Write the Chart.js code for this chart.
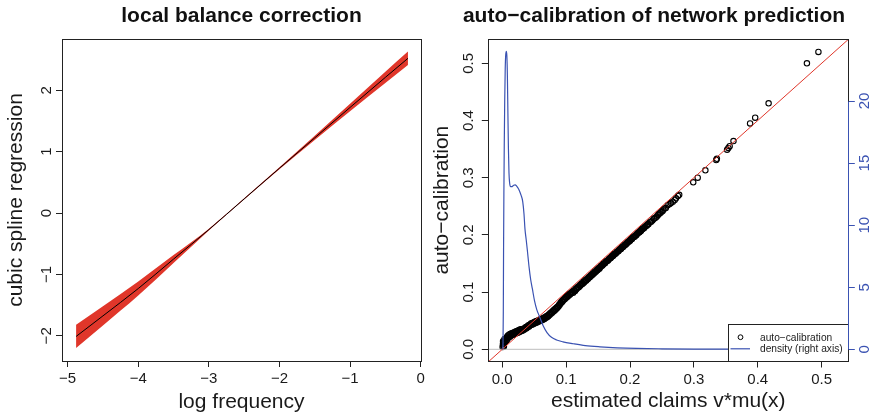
<!DOCTYPE html>
<html><head><meta charset="utf-8">
<script src="https://cdn.jsdelivr.net/npm/chart.js@4.4.1/dist/chart.umd.min.js"></script>
<style>
html,body{margin:0;padding:0;background:#fff;}
body{width:874px;height:417px;position:relative;overflow:hidden;}
canvas{position:absolute;top:0;}
#left{left:0;}
#right{left:430px;}
</style></head><body>
<canvas id="left" width="430" height="417"></canvas>
<canvas id="right" width="444" height="417"></canvas>
<script>
// ---------- left panel: local balance correction ----------
const logFreq   = [-4.88, -4.5, -4.0, -3.5, -3.0, -2.5, -2.0, -1.5, -1.0, -0.5, -0.18];
const splineFit = [-2.01, -1.675, -1.23, -0.75, -0.27, 0.23, 0.73, 1.225, 1.72, 2.21, 2.52];
const splineUp  = [-1.82, -1.52, -1.115, -0.685, -0.255, 0.24, 0.745, 1.26, 1.78, 2.30, 2.63];
const splineLo  = [-2.20, -1.83, -1.345, -0.815, -0.285, 0.22, 0.715, 1.19, 1.66, 2.12, 2.41];
const leftXTicks = [-5, -4, -3, -2, -1, 0];
const leftYTicks = [-2, -1, 0, 1, 2];

// ---------- right panel: auto-calibration ----------
const autoCal = [
 [0.0005,0.004],[0.001,0.009],[0.0015,0.006],[0.002,0.012],[0.0012,0.014],[0.003,0.010],[0.0025,0.005],[0.004,0.015],[0.0035,0.018],[0.005,0.013],
 [0.006,0.019],[0.007,0.016],[0.0075,0.022],[0.0085,0.019],[0.009,0.024],[0.010,0.021],[0.011,0.026],[0.012,0.022],[0.013,0.027],[0.014,0.024],
 [0.015,0.028],[0.016,0.025],[0.017,0.029],[0.018,0.026],[0.019,0.030],[0.020,0.027],[0.021,0.031],[0.022,0.028],[0.023,0.032],[0.024,0.029],
 [0.025,0.033],[0.026,0.030],[0.027,0.034],[0.028,0.031],[0.029,0.035],[0.030,0.032],[0.031,0.035],[0.032,0.033],[0.033,0.036],[0.034,0.034],
 [0.035,0.037],[0.036,0.036],[0.037,0.039],[0.038,0.037],[0.039,0.040],[0.040,0.039],[0.041,0.042],[0.042,0.040],[0.043,0.043],[0.044,0.042],
 [0.045,0.045],[0.046,0.043],[0.047,0.046],[0.048,0.044],[0.049,0.047],[0.050,0.045],[0.051,0.048],[0.052,0.046],[0.053,0.049],[0.054,0.047],
 [0.055,0.050],[0.056,0.048],[0.057,0.051],[0.058,0.049],[0.059,0.052],[0.060,0.050],[0.061,0.053],[0.062,0.051],[0.063,0.054],[0.064,0.052],
 [0.065,0.055],[0.066,0.053],[0.067,0.056],[0.068,0.055],[0.069,0.058],[0.070,0.056],[0.071,0.059],[0.072,0.058],[0.073,0.061],[0.074,0.060],
 [0.075,0.063],[0.076,0.062],[0.077,0.065],[0.078,0.064],[0.079,0.067],[0.080,0.066],[0.081,0.069],[0.082,0.068],[0.083,0.071],[0.084,0.070],
 [0.085,0.073],[0.086,0.072],[0.087,0.075],[0.088,0.075],[0.089,0.078],[0.090,0.078],[0.091,0.081],[0.092,0.081],[0.093,0.084],[0.094,0.083],
 [0.095,0.086],[0.096,0.086],[0.097,0.088],[0.098,0.088],[0.099,0.091],[0.100,0.090],[0.101,0.093],[0.102,0.092],[0.103,0.095],[0.104,0.094],
 [0.105,0.097],[0.106,0.096],[0.107,0.098],[0.108,0.098],[0.109,0.100],[0.110,0.100],[0.112,0.103],[0.113,0.103],[0.115,0.106],[0.116,0.105],
 [0.118,0.109],[0.119,0.108],[0.121,0.112],[0.122,0.111],[0.124,0.115],[0.125,0.114],[0.127,0.118],[0.128,0.117],[0.130,0.121],[0.131,0.120],
 [0.133,0.124],[0.134,0.123],[0.136,0.127],[0.137,0.126],[0.139,0.130],[0.140,0.129],[0.142,0.133],[0.143,0.132],[0.145,0.136],[0.146,0.135],
 [0.148,0.139],[0.149,0.138],[0.151,0.142],[0.153,0.143],[0.155,0.146],[0.157,0.147],[0.159,0.150],[0.161,0.151],[0.163,0.154],[0.165,0.155],
 [0.167,0.158],[0.169,0.159],[0.171,0.162],[0.173,0.163],[0.175,0.166],[0.177,0.167],[0.179,0.170],[0.181,0.171],[0.183,0.174],[0.185,0.175],
 [0.187,0.178],[0.189,0.179],[0.191,0.182],[0.193,0.183],[0.196,0.187],[0.198,0.188],[0.201,0.192],[0.203,0.193],[0.206,0.197],[0.209,0.199],
 [0.212,0.203],[0.215,0.205],[0.218,0.209],[0.221,0.211],[0.224,0.215],[0.228,0.218],[0.231,0.222],[0.235,0.225],[0.238,0.229],[0.242,0.232],
 [0.245,0.237],[0.249,0.240],[0.252,0.244],[0.256,0.247],[0.259,0.252],[0.264,0.256],[0.270,0.261],[0.272,0.264],[0.275,0.268],[0.277,0.270],
 [0.111,0.099],[0.114,0.102],[0.117,0.107],[0.120,0.109],[0.123,0.113],[0.126,0.115],[0.129,0.119],[0.132,0.121],[0.135,0.125],[0.138,0.128],
 [0.141,0.131],[0.144,0.134],[0.147,0.137],[0.150,0.141],[0.152,0.141],[0.154,0.145],[0.156,0.146],[0.158,0.149],[0.160,0.150],[0.162,0.153],
 [0.164,0.155],[0.166,0.156],[0.168,0.159],[0.170,0.160],[0.172,0.163],[0.174,0.164],[0.176,0.167],[0.178,0.168],[0.180,0.171],[0.182,0.172],
 [0.184,0.175],[0.186,0.176],[0.188,0.179],[0.190,0.180],[0.192,0.183],[0.194,0.185],[0.195,0.185],[0.197,0.188],[0.199,0.190],[0.200,0.190],
 [0.202,0.193],[0.204,0.195],[0.205,0.196],[0.207,0.197],[0.208,0.199],[0.210,0.200],[0.211,0.202],[0.213,0.204],[0.214,0.204],[0.216,0.207],
 [0.217,0.207],[0.219,0.210],[0.220,0.211],[0.222,0.212],[0.223,0.214],[0.226,0.216],[0.227,0.218],[0.229,0.219],[0.233,0.223],[0.237,0.228],
 [0.240,0.230],[0.244,0.235],[0.247,0.238],[0.251,0.242],[0.254,0.246],[0.262,0.254],[0.267,0.258],
 [0.299,0.292],[0.306,0.300],[0.318,0.313],[0.335,0.331],[0.336,0.333],[0.352,0.349],[0.354,0.352],[0.356,0.355],[0.362,0.364],[0.388,0.395],
 [0.396,0.405],[0.417,0.430],[0.477,0.500],[0.495,0.520]
];
const densX = [0.0010,0.0016,0.0020,0.0025,0.0031,0.0038,0.0046,0.0055,0.0064,0.0072,0.0080,0.0088,0.0096,0.0105,0.0115,0.0130,0.0147,0.0175,0.0200,0.0225,0.0245,0.0266,0.0295,0.0320,0.0340,0.0355,0.0375,0.0392,0.0420,0.0445,0.0470,0.0505,0.0540,0.0590,0.0640,0.0700,0.0770,0.0850,0.0950,0.1110,0.1300,0.1530,0.1800,0.2100,0.2500,0.3000,0.3500,0.4000,0.5000];
const densY = [0.0,3.0,8.0,12.5,16.5,20.0,22.6,23.8,24.0,23.6,22.0,19.0,16.2,14.2,13.4,13.1,13.1,13.2,13.25,13.15,13.0,12.8,12.4,11.9,10.9,9.7,8.8,8.0,6.6,5.6,4.9,3.9,3.2,2.55,1.9,1.35,0.97,0.75,0.6,0.45,0.3,0.2,0.12,0.07,0.04,0.02,0.01,0.005,0.0];
const diagRange = [-0.05, 0.6];
const zeroLevel = 0;
const rightXTicks = [0, 0.1, 0.2, 0.3, 0.4, 0.5];
const rightYTicks = [0, 0.1, 0.2, 0.3, 0.4, 0.5];
const densTicks = [0, 5, 10, 15, 20];
const legendLabels = ['auto\u2212calibration', 'density (right axis)'];

// ---------- styling ----------
const FONT = "'Liberation Sans', Arial, Helvetica, sans-serif";
const TXT = '#1a1a1a';
const AXIS = '#222';
const RED = '#E0362A';
const BLUE = '#3A52B2';
Chart.defaults.font.family = FONT;
const signed = v => (v < 0 ? '\u2212' + Math.abs(v) : String(v));
const setTicks = arr => s => { s.ticks = arr.map(v => ({value: v})); };
const gridCfg = (len, col) => ({drawOnChartArea: false, drawTicks: true, tickLength: len, tickColor: col, tickWidth: 1});

const boxPlugin = {
  id: 'box',
  afterDatasetsDraw(chart) {
    const {ctx, chartArea: ca} = chart;
    const l = Math.round(ca.left) + 0.5, t = Math.round(ca.top) + 0.5;
    const r = Math.round(ca.right) + 0.5, b = Math.round(ca.bottom) + 0.5;
    ctx.save();
    ctx.strokeStyle = AXIS; ctx.lineWidth = 1;
    ctx.strokeRect(l, t, r - l, b - t);
    ctx.restore();
  }
};

const legendPlugin = {
  id: 'calLegend',
  afterDraw(chart) {
    const {ctx, chartArea: ca} = chart;
    const xr = Math.round(ca.right) + 0.5, yb = Math.round(ca.bottom) + 0.5;
    const xl = Math.round(ca.right - 120.6) + 0.5, yt = Math.round(ca.bottom - 37.2) + 0.5;
    ctx.save();
    ctx.fillStyle = '#fff';
    ctx.fillRect(xl, yt, xr - xl, yb - yt);
    ctx.strokeStyle = AXIS; ctx.lineWidth = 1;
    ctx.strokeRect(xl, yt, xr - xl, yb - yt);
    ctx.beginPath(); ctx.arc(xl + 12, yt + 12.7, 2.4, 0, Math.PI * 2);
    ctx.strokeStyle = '#000'; ctx.stroke();
    ctx.beginPath(); ctx.moveTo(xl + 2, yt + 24.3); ctx.lineTo(xl + 21.5, yt + 24.3);
    ctx.strokeStyle = BLUE; ctx.lineWidth = 1.2; ctx.stroke();
    ctx.fillStyle = '#222';
    ctx.font = '10.2px ' + FONT;
    ctx.textBaseline = 'middle'; ctx.textAlign = 'left';
    ctx.fillText(legendLabels[0], xl + 31.5, yt + 13.2);
    ctx.fillText(legendLabels[1], xl + 31.5, yt + 24.8);
    const y2 = chart.scales.y2;
    ctx.beginPath();
    ctx.moveTo(xr, Math.round(y2.getPixelForValue(densTicks[0])) + 0.5);
    ctx.lineTo(xr, Math.round(y2.getPixelForValue(densTicks[densTicks.length - 1])) + 0.5);
    ctx.strokeStyle = BLUE; ctx.lineWidth = 1; ctx.stroke();
    ctx.restore();
  }
};

// ---------- left chart ----------
new Chart(document.getElementById('left'), {
  type: 'line',
  data: {
    datasets: [
      {data: logFreq.map((x, i) => ({x, y: splineFit[i]})), borderColor: '#000', borderWidth: 1, pointRadius: 0, cubicInterpolationMode: 'monotone', fill: false},
      {data: logFreq.map((x, i) => ({x, y: splineUp[i]})), borderWidth: 0, borderColor: 'rgba(0,0,0,0)', backgroundColor: RED, pointRadius: 0, cubicInterpolationMode: 'monotone', fill: '+1'},
      {data: logFreq.map((x, i) => ({x, y: splineLo[i]})), borderWidth: 0, borderColor: 'rgba(0,0,0,0)', pointRadius: 0, cubicInterpolationMode: 'monotone', fill: false}
    ]
  },
  options: {
    responsive: false, animation: false, events: [], devicePixelRatio: 1,
    layout: {padding: {left: 0, right: 9, top: 0, bottom: 0}},
    plugins: {
      legend: {display: false}, tooltip: {enabled: false},
      title: {display: true, text: 'local balance correction', fullSize: false, color: '#111',
              font: {size: 21, weight: 'bold'}, padding: {top: 3.4, bottom: 10.4}}
    },
    scales: {
      x: {
        type: 'linear', min: -5.08, max: 0.005,
        afterBuildTicks: setTicks(leftXTicks), afterFit: s => { s.height = 56; },
        grid: gridCfg(6, AXIS), border: {display: false},
        ticks: {font: {size: 15}, color: TXT, padding: 3.2, maxRotation: 0, autoSkip: false, callback: v => signed(v)},
        title: {display: true, text: 'log frequency', font: {size: 21}, color: TXT, padding: {top: 0, bottom: 2.4}}
      },
      y: {
        type: 'linear', min: -2.41, max: 2.835,
        afterBuildTicks: setTicks(leftYTicks), afterFit: s => { s.width = 62; },
        grid: gridCfg(6, AXIS), border: {display: false},
        ticks: {font: {size: 15}, color: TXT, padding: 1, minRotation: 90, maxRotation: 90, crossAlign: 'center', autoSkip: false, callback: v => signed(v)},
        title: {display: true, text: 'cubic spline regression', font: {size: 21}, color: TXT, padding: {top: 3.4, bottom: 0}}
      }
    }
  },
  plugins: [boxPlugin]
});

// ---------- right chart ----------
new Chart(document.getElementById('right'), {
  type: 'line',
  data: {
    datasets: [
      {label: legendLabels[1], data: densX.map((x, i) => ({x, y: densY[i]})), yAxisID: 'y2', borderColor: BLUE, borderWidth: 1.2, pointRadius: 0, cubicInterpolationMode: 'monotone', fill: false},
      {data: diagRange.map(v => ({x: v, y: v})), yAxisID: 'y', borderColor: RED, borderWidth: 1, pointRadius: 0, fill: false},
      {data: diagRange.map(v => ({x: v, y: zeroLevel})), yAxisID: 'y', borderColor: '#BDBDBD', borderWidth: 1, pointRadius: 0, fill: false},
      {label: legendLabels[0], data: autoCal.map(([x, y]) => ({x, y})), yAxisID: 'y', showLine: false, pointStyle: 'circle', pointRadius: 2.7, pointBorderWidth: 1.1, pointBorderColor: '#000', pointBackgroundColor: 'rgba(0,0,0,0)', borderColor: '#000'}
    ]
  },
  options: {
    responsive: false, animation: false, events: [], devicePixelRatio: 1,
    layout: {padding: {left: 4, right: 0, top: 0, bottom: 0}},
    plugins: {
      legend: {display: false}, tooltip: {enabled: false},
      title: {display: true, text: 'auto\u2212calibration of network prediction', color: '#111',
              font: {size: 21, weight: 'bold'}, padding: {top: 3.4, bottom: 10.7}}
    },
    scales: {
      x: {
        type: 'linear', min: -0.0219, max: 0.5418,
        afterBuildTicks: setTicks(rightXTicks), afterFit: s => { s.height = 56; },
        grid: gridCfg(6.5, AXIS), border: {display: false},
        ticks: {font: {size: 15}, color: TXT, padding: 3.5, maxRotation: 0, autoSkip: false, callback: v => v.toFixed(1)},
        title: {display: true, text: 'estimated claims v*mu(x)', font: {size: 21}, color: TXT, padding: {top: 0, bottom: 3.4}}
      },
      y: {
        type: 'linear', position: 'left', min: -0.02045, max: 0.542,
        afterBuildTicks: setTicks(rightYTicks), afterFit: s => { s.width = 54.3; },
        grid: gridCfg(6.5, AXIS), border: {display: false},
        ticks: {font: {size: 15}, color: TXT, padding: 2.9, minRotation: 90, maxRotation: 90, crossAlign: 'center', autoSkip: false, callback: v => v.toFixed(1)},
        title: {display: true, text: 'auto\u2212calibration', font: {size: 21}, color: TXT, padding: {top: -4.2, bottom: 0}}
      },
      y2: {
        type: 'linear', position: 'right', min: -0.942, max: 24.97,
        afterBuildTicks: setTicks(densTicks), afterFit: s => { s.width = 25.7; },
        grid: gridCfg(6.5, BLUE), border: {display: false},
        ticks: {font: {size: 15}, color: BLUE, padding: 2.0, minRotation: 90, maxRotation: 90, crossAlign: 'center', autoSkip: false, callback: v => String(v)}
      }
    }
  },
  plugins: [boxPlugin, legendPlugin]
});
</script>
</body></html>
